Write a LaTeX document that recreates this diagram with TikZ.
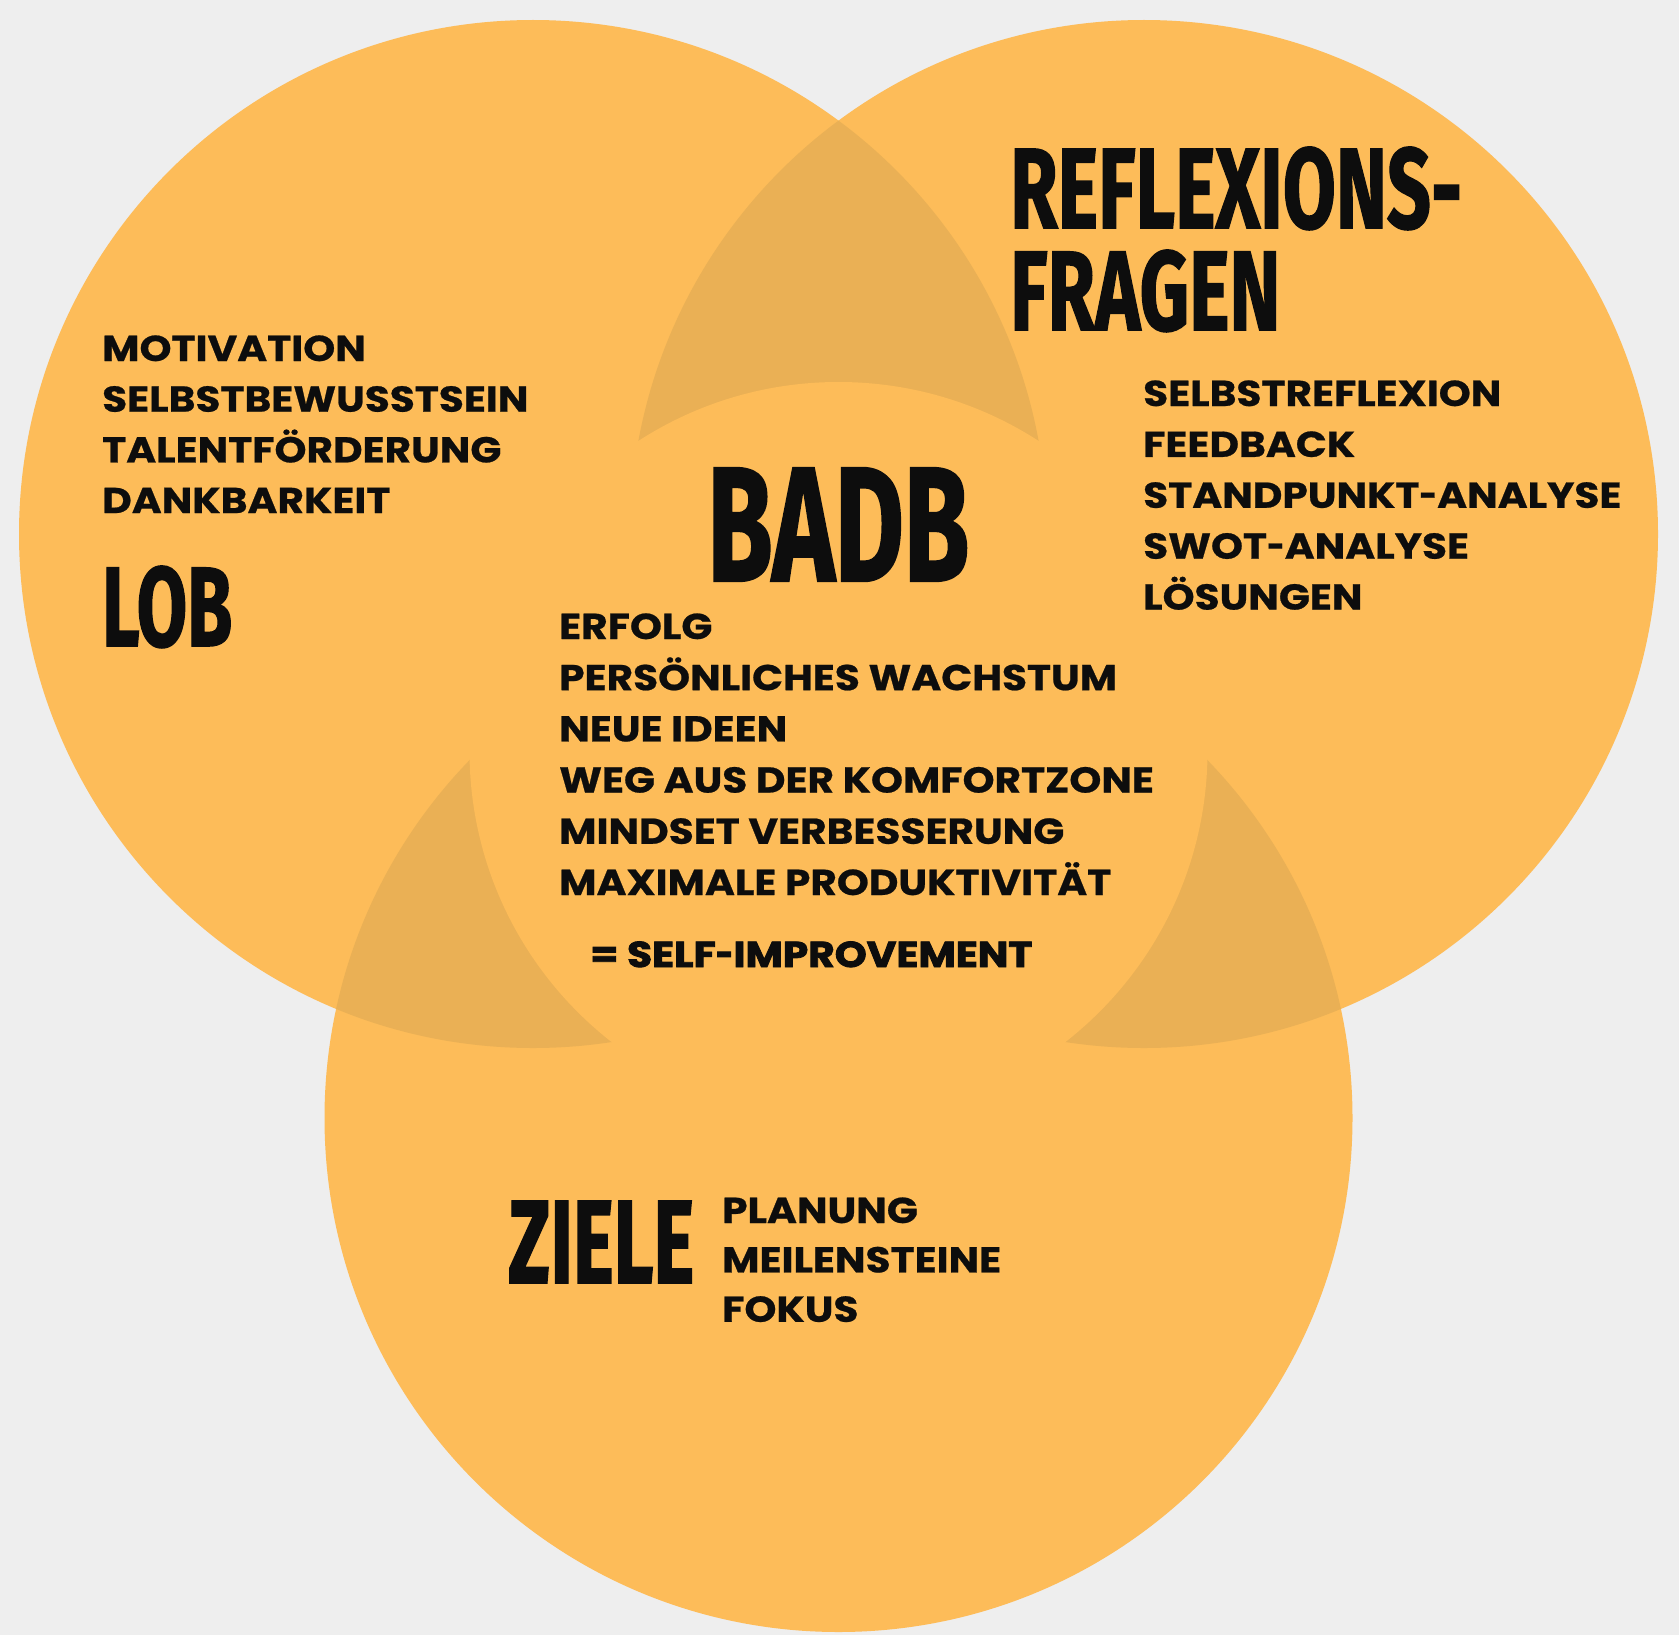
\documentclass[tikz,border=0pt]{standalone}
\usepackage{fontspec}
\usepackage{graphicx}
\setmainfont{Poppins}[BoldFeatures={FakeBold=0.6}]
\newfontfamily\headfont{Fira Sans}[BoldFeatures={FakeBold=1.5}]
\newfontfamily\heavyfont{Poppins}[BoldFeatures={FakeBold=2.2}]
\definecolor{bgc}{HTML}{EEEEEE}
\definecolor{lightc}{HTML}{FDBC59}
\definecolor{darkc}{HTML}{EAB055}
\definecolor{ink}{HTML}{0D0D0D}
\newcommand{\wide}[1]{\scalebox{1.13}[1]{#1}}
\newcommand{\hy}{\scalebox{0.75}[1]{-}}
\begin{document}
\begin{tikzpicture}[x=1pt,y=-1pt,
  item/.style={anchor=base west, inner sep=0pt, text=ink, font=\fontsize{36}{40}\selectfont\bfseries},
  head/.style={anchor=base west, inner sep=0pt, text=ink, font=\headfont\bfseries}]
\fill[bgc] (0,0) rectangle (1679,1635);
\useasboundingbox (0,0) rectangle (1679,1635);
\coordinate (cl) at (533,534);
\coordinate (cr) at (1144,534);
\coordinate (cb) at (838.5,1118);
\coordinate (cc) at (838.5,751);
\def\R{514}
\fill[lightc] (cl) circle[radius=\R] (cr) circle[radius=\R] (cb) circle[radius=\R];
\begin{scope}
  \clip (cl) circle[radius=\R];
  \fill[darkc] (cr) circle[radius=\R] (cb) circle[radius=\R];
\end{scope}
\begin{scope}
  \clip (cr) circle[radius=\R];
  \fill[darkc] (cb) circle[radius=\R];
\end{scope}
\fill[lightc] (cc) circle[radius=369];
% headings
\node[head] (badb) at (707,581) {\resizebox{262pt}{113pt}{BADB}};
\node[head] (lob) at (102,646) {\resizebox{130pt}{80pt}{LOB}};
\node[head] (refl1) at (1010,228) {\resizebox{452pt}{81pt}{REFLEXIONS-}};
\node[head] (refl2) at (1010,330) {\resizebox{270pt}{80pt}{FRAGEN}};
\node[head] (ziele) at (508,1283) {\resizebox{186pt}{82pt}{ZIELE}};
% lists
\foreach [count=\i] \t in {MOTIVATION,SELBSTBEWUSSTSEIN,TALENTFÖRDERUNG,DANKBARKEIT}
  \node[item] (lobitem\i) at (102,{361+50.7*(\i-1)}) {\wide{\t}};
\foreach [count=\i] \t in {SELBSTREFLEXION,FEEDBACK,STANDPUNKT\hy ANALYSE,SWOT\hy ANALYSE,LÖSUNGEN}
  \node[item] (reflitem\i) at (1143,{406+50.9*(\i-1)}) {\wide{\t}};
\foreach [count=\i] \t in {ERFOLG,PERSÖNLICHES WACHSTUM,NEUE IDEEN,WEG AUS DER KOMFORTZONE,MINDSET VERBESSERUNG,MAXIMALE PRODUKTIVITÄT}
  \node[item] (centeritem\i) at (559,{639+51.2*(\i-1)}) {\wide{\t}};
\node[item, font=\fontsize{36}{40}\heavyfont\bfseries] (selfimp) at (590,967) {\wide{= SELF\hy IMPROVEMENT}};
\foreach [count=\i] \t in {PLANUNG,MEILENSTEINE,FOKUS}
  \node[item] (zielitem\i) at (722,{1223+49.4*(\i-1)}) {\wide{\t}};
\end{tikzpicture}
\end{document}
